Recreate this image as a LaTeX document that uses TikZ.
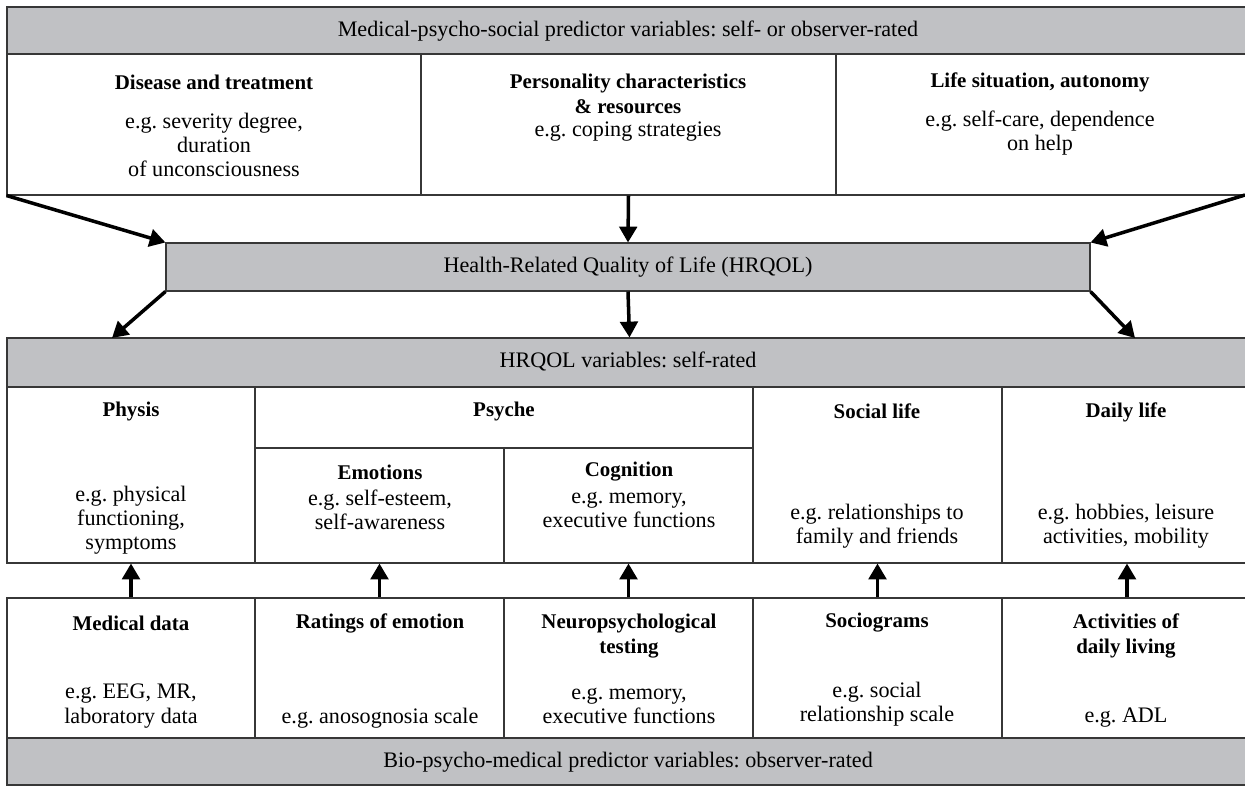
\documentclass[tikz,border=0pt]{standalone}
\usepackage{fontspec}
\setmainfont{Liberation Serif}
\usepackage{xcolor}
\usepackage{tikz}
\usetikzlibrary{arrows.meta,positioning,fit}

\definecolor{bandgray}{RGB}{192,193,196}
\definecolor{rulegray}{RGB}{55,55,55}
\frenchspacing

\begin{document}
\begin{tikzpicture}[x=0.02cm,y=-0.02cm,
    font=\fontsize{12.6}{13.8}\selectfont,
    cell/.style={draw=rulegray,line width=0.6pt,inner sep=0pt},
    band/.style={cell,fill=bandgray},
    head/.style={font=\fontsize{11.9}{13.8}\selectfont\bfseries,align=center},
    txt/.style={align=center},
    arr/.style={line width=2pt,-{Triangle[width=10pt,length=9pt]}}]
  \useasboundingbox (0,0) rectangle (1245,786);

  % observer/self rated predictors on top
  \node[band,fit={(7,7) (1252,54)}] (topband) {};
  \node at (628,31) (topT) {Medical-psycho-social predictor variables: self- or observer-rated};
  \node[cell,fit={(7,54) (421,195)}] (dis) {};
  \node[cell,fit={(421,54) (836,195)}] (pers) {};
  \node[cell,fit={(836,54) (1252,195)}] (life) {};
  \node[head] at (214,82) (disH) {Disease and treatment};
  \node[txt] at (214,145) (disB) {e.g. severity degree,\\duration\\of unconsciousness};
  \node[head] at (628,94) (persH) {Personality characteristics\\\& resources};
  \node[txt] at (628,132) (persB) {e.g. coping strategies};
  \node[head] at (1040,82) (lifeH) {Life situation, autonomy};
  \node[txt] at (1040,133) (lifeB) {e.g. self-care, dependence\\on help};

  % HRQOL
  \node[band,fit={(166,243) (1090,291)}] (hrqol) {};
  \node at (628,267) (hrqolT) {Health-Related Quality of Life (HRQOL)};

  % self-rated HRQOL variables
  \node[band,fit={(7,338) (1252,387)}] (hqband) {};
  \node at (628,362) (hqT) {HRQOL variables: self-rated};
  \node[cell,fit={(7,387) (255,563)}] (phys) {};
  \node[cell,fit={(255,387) (753,448)}] (psy) {};
  \node[cell,fit={(255,448) (504,563)}] (emo) {};
  \node[cell,fit={(504,448) (753,563)}] (cog) {};
  \node[cell,fit={(753,387) (1002,563)}] (soc) {};
  \node[cell,fit={(1002,387) (1252,563)}] (daily) {};
  \node[head] at (131,412) (physH) {Physis};
  \node[txt] at (131,520) (physB) {e.g. physical\\functioning,\\symptoms};
  \node[head] at (504,412) (psyH) {Psyche};
  \node[head] at (380,472) (emoH) {Emotions};
  \node[txt] at (380,510) (emoB) {e.g. self-esteem,\\self-awareness};
  \node[head] at (629,472) (cogH) {Cognition};
  \node[txt] at (629,510) (cogB) {e.g. memory,\\executive functions};
  \node[head] at (877,411) (socH) {Social life};
  \node[txt] at (877,526) (socB) {e.g. relationships to\\family and friends};
  \node[head] at (1126,412) (dailyH) {Daily life};
  \node[txt] at (1126,526) (dailyB) {e.g. hobbies, leisure\\activities, mobility};

  % observer rated predictors below
  \node[cell,fit={(7,598) (255,738)}] (med) {};
  \node[cell,fit={(255,598) (504,738)}] (rat) {};
  \node[cell,fit={(504,598) (753,738)}] (neu) {};
  \node[cell,fit={(753,598) (1002,738)}] (sgram) {};
  \node[cell,fit={(1002,598) (1252,738)}] (adl) {};
  \node[band,fit={(7,738) (1252,785)}] (botband) {};
  \node at (628,762) (botT) {Bio-psycho-medical predictor variables: observer-rated};
  \node[head] at (131,623) (medH) {Medical data};
  \node[txt] at (131,706) (medB) {e.g. EEG, MR,\\laboratory data};
  \node[head] at (380,623) (ratH) {Ratings of emotion};
  \node[txt] at (380,718) (ratB) {e.g. anosognosia scale};
  \node[head] at (629,636) (neuH) {Neuropsychological\\testing};
  \node[txt] at (629,706) (neuB) {e.g. memory,\\executive functions};
  \node[head] at (877,623) (sgramH) {Sociograms};
  \node[txt] at (877,704) (sgramB) {e.g. social\\relationship scale};
  \node[head] at (1126,636) (adlH) {Activities of\\daily living};
  \node[txt] at (1126,718) (adlB) {e.g. ADL};

  % arrows
  \coordinate (inL) at (112,338);
  \coordinate (inR) at (1135,338);
  \coordinate (outR) at (1245,195);
  \draw[arr] (dis.south west) -- (hrqol.north west);
  \draw[arr] (pers.south) -- (hrqol.north);
  \draw[arr] (outR) -- (hrqol.north east);
  \draw[arr] (hrqol.south west) -- (inL);
  \draw[arr] (hrqol.south) -- (hqband.north);
  \draw[arr] (hrqol.south east) -- (inR);
  \draw[arr] (med.north) -- (phys.south);
  \draw[arr] (rat.north) -- (emo.south);
  \draw[arr] (neu.north) -- (cog.south);
  \draw[arr] (sgram.north) -- (soc.south);
  \draw[arr] (adl.north) -- (daily.south);
\end{tikzpicture}
\end{document}
